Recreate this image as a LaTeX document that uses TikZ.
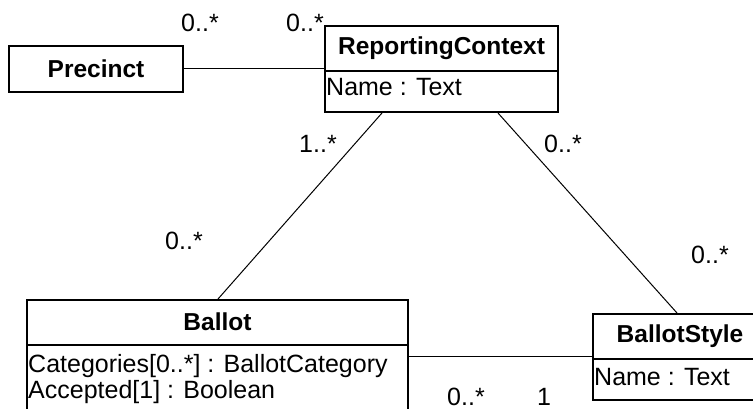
\documentclass[tikz,border=0pt]{standalone}
\usepackage{fontspec}
\setmainfont{Liberation Sans}
\usetikzlibrary{calc}
\begin{document}
\begin{tikzpicture}[x=1pt,y=-1pt,
  every node/.style={font=\fontsize{25}{28}\selectfont, inner sep=0pt},
  umlbox/.style={draw, line width=2pt, anchor=north west, minimum width=#1},
  title/.style={font=\fontsize{24.5}{28}\selectfont\bfseries},
  attr/.style={anchor=base west},
  mult/.style={anchor=base, text depth=0pt},
  conn/.style={line width=1pt}]
\useasboundingbox (0,0) rectangle (753,409);
\clip (0,0) rectangle (753,409);
% boxes
\node[umlbox=174, minimum height=46] (pre) at (8,45) {};
\node[umlbox=233, minimum height=86] (rc) at (324,25) {};
\node[umlbox=381, minimum height=140] (ba) at (26,299) {};
\node[umlbox=175, minimum height=86] (bs) at (592,313) {};
% compartments
\draw[line width=2pt] ($(rc.north west)+(0,46)$) -- ($(rc.north east)+(0,46)$);
\draw[line width=2pt] ($(ba.north west)+(0,46)$) -- ($(ba.north east)+(0,46)$);
\draw[line width=2pt] ($(bs.north west)+(0,46)$) -- ($(bs.north east)+(0,46)$);
% titles
\node[title] (pret) at (pre.center) {Precinct};
\node[title] (rct) at ($(rc.north)+(0,23)$) {ReportingContext};
\node[title] (bat) at ($(ba.north)+(0,23)$) {Ballot};
\node[title] (bst) at ($(bs.north west)+(88,23)$) {BallotStyle};
% attributes
\node[attr] (rca) at (326,96) {Name : Text};
\node[attr] (baa1) at (28,372) {Categories[0..*] : BallotCategory};
\node[attr] (baa2) at (28,398) {Accepted[1] : Boolean};
\node[attr] (bsa) at (594,385) {Name : Text};
% connectors
\coordinate (rcl) at ($(rc.south west)+(58,0)$);
\coordinate (rcr) at ($(rc.south west)+(174,0)$);
\coordinate (bat0) at ($(ba.north west)+(192,0)$);
\coordinate (bst0) at ($(bs.north west)+(85,0)$);
\coordinate (bae) at ($(ba.north east)+(0,57)$);
\draw[conn] (pre.east) -- (pre.east -| rc.west);
\draw[conn] (rcl) -- (bat0);
\draw[conn] (rcr) -- (bst0);
\draw[conn] (bae) -- (bae -| bs.west);
% multiplicities
\node[mult] (m1) at (200,32) {0..*};
\node[mult] (m2) at (305,32) {0..*};
\node[mult] (m3) at (318,153) {1..*};
\node[mult] (m4) at (563,153) {0..*};
\node[mult] (m5) at (184,249) {0..*};
\node[mult] (m6) at (710,263) {0..*};
\node[mult] (m7) at (466,405) {0..*};
\node[mult] (m8) at (544,405) {1};
\end{tikzpicture}
\end{document}
